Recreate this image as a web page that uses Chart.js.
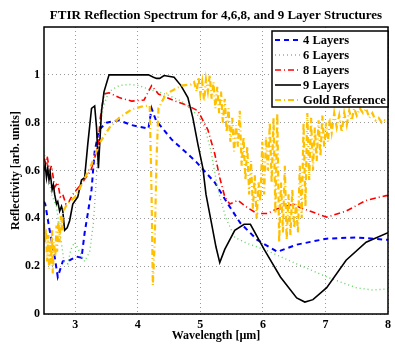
<!DOCTYPE html>
<html>
<head>
<meta charset="utf-8">
<script src="https://cdn.jsdelivr.net/npm/chart.js@4.4.1/dist/chart.umd.min.js"></script>
<style>
  body { margin: 0; background: #fff; }
  canvas { display: block; }
</style>
</head>
<body>
<canvas id="grafico" width="395" height="344"></canvas>
<script>
// datos
const titulo = 'FTIR Reflection Spectrum for 4,6,8, and 9 Layer Structures';
const tituloX = 'Wavelength [\u00b5m]';
const tituloY = 'Reflectivity [arb. units]';
const ticksX = [3, 4, 5, 6, 7, 8];
const ticksY = [0, 0.2, 0.4, 0.6, 0.8, 1];
const etiquetas = ['4 Layers', '6 Layers', '8 Layers', '9 Layers', 'Gold Reference'];

const x4 = [2.5, 2.52, 2.59, 2.67, 2.72, 2.8, 2.91, 3.02, 3.1, 3.15, 3.2, 3.26, 3.31, 3.38, 3.5, 3.7, 3.9, 4.17, 4.22, 4.29, 4.54, 4.92, 5.23, 5.44, 5.64, 5.91, 6.23, 6.54, 7.02, 7.49, 8.0];
const y4 = [0.47, 0.46, 0.35, 0.24, 0.155, 0.22, 0.225, 0.24, 0.235, 0.34, 0.42, 0.52, 0.68, 0.77, 0.80, 0.81, 0.79, 0.775, 0.86, 0.81, 0.73, 0.64, 0.55, 0.46, 0.38, 0.31, 0.26, 0.29, 0.315, 0.32, 0.31];

const x6 = [2.5, 2.55, 2.62, 2.7, 2.76, 2.82, 2.88, 2.93, 2.99, 3.07, 3.15, 3.23, 3.29, 3.34, 3.38, 3.45, 3.54, 3.7, 3.86, 4.02, 4.17, 4.44, 4.7, 4.96, 5.07, 5.17, 5.28, 5.41, 5.55, 5.75, 6.02, 6.28, 6.54, 7.02, 7.49, 7.76, 8.0];
const y6 = [0.68, 0.62, 0.5, 0.45, 0.33, 0.22, 0.21, 0.27, 0.30, 0.26, 0.22, 0.26, 0.38, 0.58, 0.75, 0.87, 0.93, 0.955, 0.96, 0.955, 0.94, 0.92, 0.89, 0.83, 0.78, 0.68, 0.52, 0.40, 0.32, 0.295, 0.27, 0.24, 0.21, 0.155, 0.11, 0.10, 0.105];

const x8 = [2.5, 2.53, 2.55, 2.59, 2.62, 2.67, 2.72, 2.76, 2.8, 2.85, 2.9, 2.96, 3.1, 3.25, 3.34, 3.37, 3.4, 3.46, 3.54, 3.7, 3.9, 4.1, 4.22, 4.33, 4.6, 4.81, 4.96, 5.12, 5.23, 5.31, 5.39, 5.47, 5.6, 5.75, 5.91, 6.07, 6.23, 6.5, 6.59, 7.02, 7.33, 7.65, 7.97, 8.0];
const y8 = [0.65, 0.63, 0.66, 0.60, 0.62, 0.53, 0.55, 0.49, 0.50, 0.46, 0.47, 0.50, 0.545, 0.60, 0.68, 0.72, 0.82, 0.92, 0.925, 0.905, 0.89, 0.895, 0.955, 0.92, 0.89, 0.87, 0.85, 0.77, 0.67, 0.57, 0.49, 0.46, 0.475, 0.445, 0.42, 0.42, 0.44, 0.46, 0.445, 0.405, 0.43, 0.475, 0.495, 0.495];

const x9 = [2.5, 2.52, 2.54, 2.56, 2.58, 2.6, 2.63, 2.65, 2.67, 2.7, 2.72, 2.75, 2.78, 2.8, 2.83, 2.87, 2.91, 2.96, 3.04, 3.1, 3.15, 3.2, 3.26, 3.31, 3.34, 3.37, 3.42, 3.46, 3.54, 4.17, 4.25, 4.3, 4.35, 4.42, 4.58, 4.69, 4.8, 4.88, 4.96, 5.04, 5.09, 5.17, 5.25, 5.31, 5.39, 5.55, 5.7, 5.8, 6.02, 6.28, 6.54, 6.67, 6.8, 7.02, 7.33, 7.65, 8.0];
const y9 = [0.60, 0.62, 0.57, 0.61, 0.56, 0.59, 0.52, 0.54, 0.50, 0.46, 0.47, 0.43, 0.45, 0.43, 0.35, 0.36, 0.39, 0.46, 0.49, 0.56, 0.57, 0.71, 0.86, 0.87, 0.78, 0.61, 0.85, 0.93, 1.0, 1.0, 0.99, 0.985, 0.985, 0.997, 0.99, 0.955, 0.905, 0.82, 0.71, 0.61, 0.50, 0.39, 0.28, 0.215, 0.27, 0.35, 0.375, 0.375, 0.27, 0.155, 0.067, 0.05, 0.06, 0.11, 0.225, 0.30, 0.34];

const xOro = [2.5, 2.52, 2.53, 2.55, 2.57, 2.58, 2.6, 2.61, 2.63, 2.64, 2.66, 2.68, 2.7, 2.71, 2.73, 2.75, 2.77, 2.79, 2.8, 2.83, 2.87, 3.0, 3.1, 3.25, 3.4, 3.55, 3.7, 3.9, 4.1, 4.19, 4.22, 4.24, 4.27, 4.3, 4.33, 4.45, 4.7, 4.85,
  4.90, 4.94, 4.97, 5.00, 5.03, 5.06, 5.09, 5.12, 5.15, 5.18, 5.21, 5.24, 5.27, 5.30, 5.33, 5.36, 5.39, 5.42, 5.45, 5.48, 5.51, 5.54, 5.57, 5.60, 5.63, 5.66, 5.69, 5.72, 5.75, 5.78, 5.81, 5.84, 5.87, 5.90, 5.93, 5.96, 5.99,
  6.02, 6.05, 6.08, 6.11, 6.14, 6.17, 6.20, 6.23, 6.26, 6.29, 6.32, 6.35, 6.38, 6.41, 6.44, 6.47, 6.50, 6.53, 6.56, 6.59, 6.62, 6.65, 6.68, 6.71, 6.74, 6.77, 6.80, 6.83, 6.86, 6.89, 6.92, 6.95, 6.98,
  7.01, 7.04, 7.07, 7.10, 7.14, 7.18, 7.22, 7.26, 7.30, 7.34, 7.38, 7.42, 7.46, 7.50, 7.55, 7.60, 7.65, 7.70, 7.75, 7.80, 7.85, 7.90, 7.95, 8.00];
const yOro = [0.38, 0.30, 0.36, 0.22, 0.33, 0.19, 0.30, 0.21, 0.35, 0.17, 0.30, 0.24, 0.37, 0.26, 0.39, 0.30, 0.41, 0.35, 0.43, 0.44, 0.46, 0.49, 0.54, 0.62, 0.72, 0.78, 0.82, 0.855, 0.87, 0.87, 0.5, 0.12, 0.3, 0.65, 0.86, 0.92, 0.955, 0.96,
  0.97, 0.93, 0.99, 0.92, 0.97, 0.89, 0.98, 0.93, 1.00, 0.90, 0.97, 0.86, 0.95, 0.84, 0.93, 0.80, 0.90, 0.76, 0.86, 0.72, 0.82, 0.68, 0.79, 0.70, 0.85, 0.62, 0.74, 0.56, 0.70, 0.50, 0.64, 0.44, 0.58, 0.40, 0.55, 0.47, 0.72,
  0.50, 0.74, 0.60, 0.80, 0.55, 0.82, 0.42, 0.84, 0.30, 0.55, 0.34, 0.62, 0.31, 0.50, 0.33, 0.52, 0.36, 0.46, 0.34, 0.62, 0.40, 0.80, 0.45, 0.84, 0.56, 0.82, 0.60, 0.78, 0.64, 0.81, 0.66, 0.83, 0.70,
  0.80, 0.72, 0.82, 0.76, 0.84, 0.78, 0.83, 0.76, 0.84, 0.79, 0.85, 0.81, 0.86, 0.83, 0.86, 0.84, 0.86, 0.82, 0.84, 0.81, 0.82, 0.80, 0.81, 0.80];

const fuente = "'Liberation Serif', 'Times New Roman', serif";

function puntos(xs, ys) {
  return xs.map((x, i) => ({ x: x, y: ys[i] }));
}

function serie(i, xs, ys, color, ancho, guiones, orden) {
  return {
    label: etiquetas[i],
    data: puntos(xs, ys),
    borderColor: color,
    borderWidth: ancho,
    borderDash: guiones,
    pointRadius: 0,
    tension: 0,
    fill: false,
    order: orden
  };
}

// titulo, ejes, marco y leyenda dibujados a mano (estilo matlab)
const decoracion = {
  id: 'decoracion',
  afterDraw(chart) {
    const ctx = chart.ctx;
    const a = chart.chartArea;
    ctx.save();
    ctx.strokeStyle = '#000';
    ctx.lineWidth = 1.5;
    ctx.setLineDash([]);
    ctx.strokeRect(a.left, a.top, a.right - a.left, a.bottom - a.top);

    ctx.fillStyle = '#000';
    ctx.textAlign = 'center';
    ctx.textBaseline = 'middle';
    ctx.font = 'bold 13px ' + fuente;
    ctx.fillText(titulo, (a.left + a.right) / 2, 16);
    ctx.font = 'bold 12px ' + fuente;
    ctx.fillText(tituloX, (a.left + a.right) / 2, 336);
    ctx.save();
    ctx.translate(16, (a.top + a.bottom) / 2);
    ctx.rotate(-Math.PI / 2);
    ctx.fillText(tituloY, 0, 0);
    ctx.restore();

    // leyenda
    const lx = 272, ly = 31, lw = 116, lh = 76;
    ctx.fillStyle = '#fff';
    ctx.fillRect(lx, ly, lw, lh);
    ctx.strokeStyle = '#000';
    ctx.lineWidth = 1.5;
    ctx.strokeRect(lx, ly, lw, lh);
    ctx.font = 'bold 12.5px ' + fuente;
    ctx.textAlign = 'left';
    chart.data.datasets.forEach((d, i) => {
      const y = ly + 9 + i * 15;
      ctx.strokeStyle = d.borderColor;
      ctx.lineWidth = d.borderWidth;
      ctx.setLineDash(d.borderDash);
      ctx.beginPath();
      ctx.moveTo(lx + 3, y);
      ctx.lineTo(lx + 29, y);
      ctx.stroke();
      ctx.setLineDash([]);
      ctx.fillStyle = '#000';
      ctx.fillText(d.label, lx + 31, y + 1);
    });
    ctx.restore();
  }
};

const ctx = document.getElementById('grafico').getContext('2d');
const chart = new Chart(ctx, {
  type: 'line',
  data: {
    datasets: [
      serie(0, x4, y4, '#0000ff', 2, [5, 4], 4),
      serie(1, x6, y6, '#5fd35f', 1.4, [1, 3], 3),
      serie(2, x8, y8, '#ff0000', 1.6, [6, 3, 1, 3], 2),
      serie(3, x9, y9, '#000000', 1.6, [], 1),
      serie(4, xOro, yOro, '#ffc000', 2.2, [6, 3, 1, 3], 0)
    ]
  },
  options: {
    responsive: false,
    animation: false,
    devicePixelRatio: 1,
    layout: { padding: { top: 27, right: 2, left: 0, bottom: 0 } },
    plugins: {
      legend: { display: false },
      tooltip: { enabled: false },
      title: { display: false }
    },
    scales: {
      x: {
        type: 'linear',
        min: 2.5,
        max: 8,
        afterBuildTicks: s => { s.ticks = ticksX.map(v => ({ value: v })); },
        afterFit: s => { s.height = 30; },
        border: { display: false, dash: [1, 3] },
        grid: { color: '#999999', lineWidth: 1, drawTicks: false },
        ticks: {
          padding: 4,
          color: '#000',
          maxRotation: 0,
          font: { family: fuente, size: 12, weight: 'bold' },
          callback: v => String(v)
        }
      },
      y: {
        type: 'linear',
        min: 0,
        max: 1.2,
        afterBuildTicks: s => { s.ticks = ticksY.map(v => ({ value: v })); },
        afterFit: s => { s.width = 44; },
        border: { display: false, dash: [1, 3] },
        grid: { color: '#999999', lineWidth: 1, drawTicks: false },
        ticks: {
          padding: 4,
          color: '#000',
          font: { family: fuente, size: 12, weight: 'bold' },
          callback: v => String(Math.round(v * 10) / 10)
        }
      }
    }
  },
  plugins: [decoracion]
});
</script>
</body>
</html>
